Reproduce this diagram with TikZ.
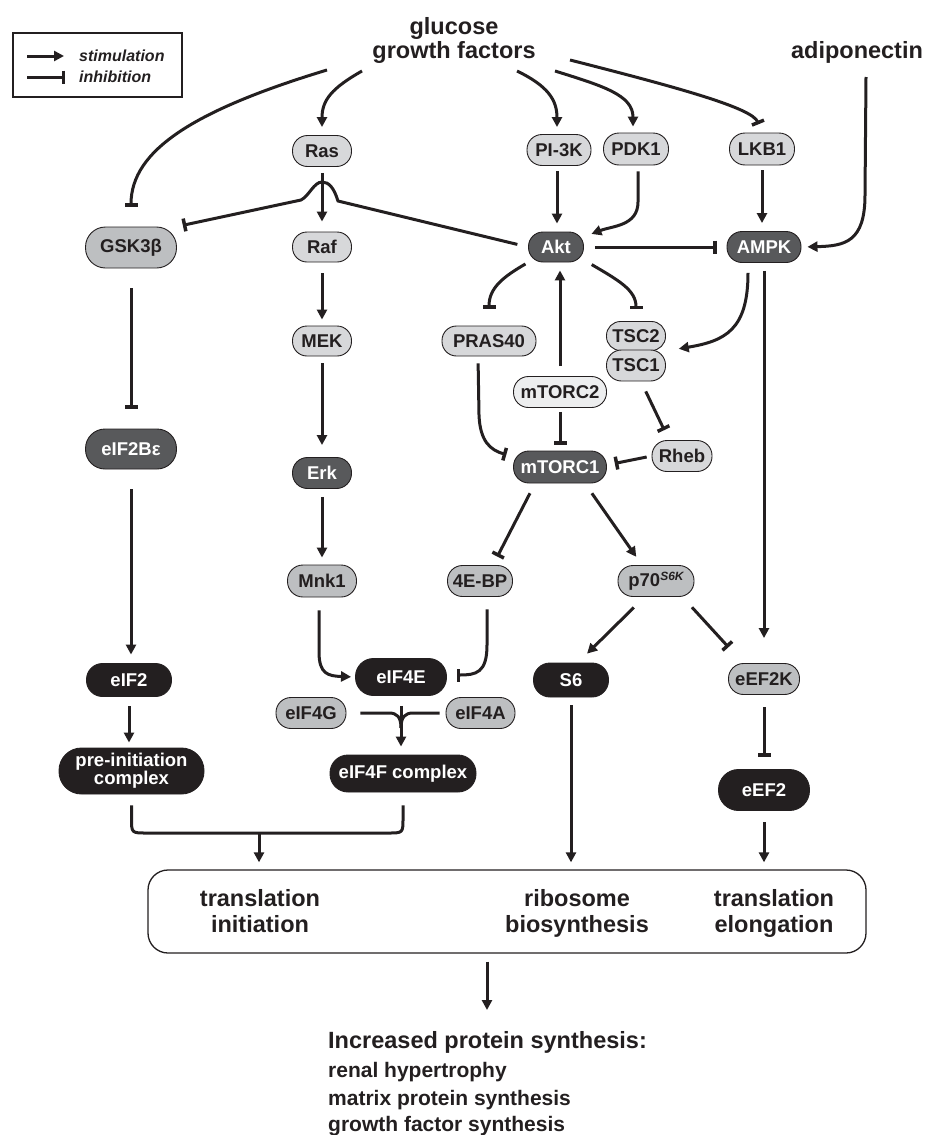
\documentclass[tikz,border=0pt]{standalone}
\usepackage{fontspec}
\setmainfont{Liberation Sans}
\usetikzlibrary{arrows.meta,calc}
\definecolor{blk}{HTML}{231F20}
\definecolor{lgray}{HTML}{D7D8DA}
\definecolor{mgray}{HTML}{BDBFC1}
\definecolor{vlgray}{HTML}{EDEEEF}
\definecolor{dgray}{HTML}{58595B}
\begin{document}
\begin{tikzpicture}[x=1pt,y=-1pt,
  pill/.style={draw=blk, line width=0.9pt, inner sep=1pt, font=\fontsize{18.5}{17}\selectfont\bfseries, align=center},
  lt/.style={pill, fill=lgray, text=blk},
  mt/.style={pill, fill=mgray, text=blk},
  vt/.style={pill, fill=vlgray, text=blk},
  dk/.style={pill, fill=dgray, text=white},
  bk/.style={pill, fill=blk, text=white},
  sz/.style 2 args={minimum width=#1pt, minimum height=#2pt, rounded corners={#2*0.5pt-0.5pt}},
  conn/.style={line width=3pt, draw=blk},
  stim/.style={conn, -{Triangle[length=10pt,width=10pt]}},
  inh/.style={conn, -{Bar[width=13pt,line width=3.5pt]}},
  big/.style={font=\fontsize{23.5}{24}\selectfont\bfseries, text=blk, inner sep=0pt},
  res/.style={font=\fontsize{21}{22}\selectfont\bfseries, text=blk, inner sep=0pt, anchor=base west},
  leg/.style={font=\fontsize{16}{17}\selectfont\bfseries\itshape, text=blk, inner sep=0pt, anchor=base west},
]
\useasboundingbox (0,0) rectangle (926,1135);

% legend
\node[draw=blk, line width=1.5pt, minimum width=169pt, minimum height=64pt, inner sep=0pt] (legend) at (97.5,65) {};
\coordinate (ls1) at (27,56); \coordinate (ls2) at (64,56);
\coordinate (li1) at (27,77); \coordinate (li2) at (65,77);
\draw[stim] (ls1) -- (ls2);
\draw[inh] (li1) -- (li2);
\node[leg] (lstim) at (79,61) {stimulation};
\node[leg] (linh) at (79,82) {inhibition};

% top texts
\node[big, anchor=base] (glc) at (454,34) {glucose};
\node[big, anchor=base] (gf) at (454,58) {growth factors};
\node[big, anchor=base] (adipo) at (857,58) {adiponectin};

% nodes
\node[lt, sz={59}{31}] (Ras) at (322,151) {Ras};
\node[lt, sz={64}{31}] (PI3K) at (559,150) {PI-3K};
\node[lt, sz={65}{32}] (PDK1) at (636,149) {PDK1};
\node[lt, sz={65}{32}] (LKB1) at (762,149) {LKB1};
\node[mt, sz={91}{41}] (GSK) at (131,247.5) {GSK3β};
\node[lt, sz={59}{30}] (Raf) at (322,247) {Raf};
\node[dk, sz={55}{30}] (Akt) at (556,247) {Akt};
\node[dk, sz={74}{31}] (AMPK) at (764,247) {AMPK};
\node[lt, sz={59}{30}] (MEK) at (322,341) {MEK};
\node[lt, sz={94}{30}] (PRAS40) at (489,341) {PRAS40};
\node[lt, sz={59}{29}] (TSC2) at (636,336) {TSC2};
\node[lt, sz={59}{31}] (TSC1) at (636,365.5) {TSC1};
\node[vt, sz={93}{31}] (mTORC2) at (560,392) {mTORC2};
\node[dk, sz={91}{40}] (eIF2Be) at (131,449) {eIF2Bε};
\node[lt, sz={60}{31}] (Rheb) at (682,456) {Rheb};
\node[dk, sz={93}{32}] (mTORC1) at (560,467) {mTORC1};
\node[dk, sz={59}{31}] (Erk) at (322,473) {Erk};
\node[mt, sz={69}{32}] (Mnk1) at (322,581) {Mnk1};
\node[mt, sz={65}{31}] (4EBP) at (480,581) {4E-BP};
\node[mt, sz={76}{31}] (p70) at (656,581) {p70\raisebox{6pt}{\fontsize{12}{12}\selectfont\itshape S6K}};
\node[bk, sz={85}{33}] (eIF2) at (129,680) {eIF2};
\node[bk, sz={91}{37}] (eIF4E) at (401,677) {eIF4E};
\node[bk, sz={75}{34}] (S6) at (571,680) {S6};
\node[mt, sz={71}{31}] (eEF2K) at (764,679) {eEF2K};
\node[mt, sz={70}{31}] (eIF4G) at (311,713) {eIF4G};
\node[mt, sz={69}{31}] (eIF4A) at (480.5,713) {eIF4A};
\node[bk, sz={145}{46}] (preinit) at (131.5,771) {pre-initiation\\complex};
\node[bk, sz={146}{37}] (eIF4F) at (403,773.5) {eIF4F complex};
\node[bk, sz={91}{41}] (eEF2) at (764,790) {eEF2};
\node[draw=blk, line width=1.3pt, rounded corners=20pt, minimum width=718pt, minimum height=83pt, inner sep=0pt] (box) at (507,911.5) {};

% box texts
\node[big, anchor=base] (ti1) at (260,906) {translation};
\node[big, anchor=base] (ti2) at (260,932) {initiation};
\node[big, anchor=base] (rb1) at (577,906) {ribosome};
\node[big, anchor=base] (rb2) at (577,932) {biosynthesis};
\node[big, anchor=base] (te1) at (774,906) {translation};
\node[big, anchor=base] (te2) at (774,932) {elongation};

% result texts
\node[big, anchor=base west] (inc) at (328,1048) {Increased protein synthesis:};
\node[res] (r1) at (328,1077) {renal hypertrophy};
\node[res] (r2) at (328,1105) {matrix protein synthesis};
\node[res] (r3) at (328,1131) {growth factor synthesis};

% free ends
\coordinate (g1) at (327,70);
\coordinate (g2) at (362,71);
\coordinate (g3) at (517,71);
\coordinate (g4) at (555,71);
\coordinate (g5) at (570,60);
\coordinate (a1) at (866,77);
\coordinate (merge) at (401,728);
\coordinate (brk) at (259,833);
\coordinate (t1) at (487,1010);

% from growth factors / adiponectin
\draw[inh, shorten >=20pt] (g1) .. controls (195,110) and (131,150) .. (GSK.north);
\draw[stim, shorten >=8pt] (g2) .. controls (332,88) and (322,100) .. (Ras.north);
\draw[stim, shorten >=7pt] (g3) .. controls (548,86) and (557,100) .. ([xshift=-2pt]PI3K.north);
\draw[stim, shorten >=6pt] (g4) .. controls (603,86) and (633,95) .. ([xshift=-3pt]PDK1.north);
\draw[inh, shorten >=9pt] (g5) .. controls (680,88) and (752,108) .. (LKB1.north);
\draw[stim, shorten >=6pt] (a1) -- (865,195) .. controls (865,242) and (845,246) .. (AMPK.east);

% Ras/MAPK column
\draw[stim, shorten <=6pt, shorten >=10pt] (Ras.south) -- (Raf.north);
\draw[stim, shorten <=11pt, shorten >=6pt] (Raf.south) -- (MEK.north);
\draw[stim, shorten <=7pt, shorten >=12pt] (MEK.south) -- (Erk.north);
\draw[stim, shorten <=8pt, shorten >=7pt] (Erk.south) -- (Mnk1.north);
\draw[stim, shorten <=13pt, shorten >=4pt] ([xshift=-3pt]Mnk1.south) -- (319,652) .. controls (319,674) and (328,676) .. (eIF4E.west);

% Akt area
\draw[stim, shorten <=5pt, shorten >=8pt] ([xshift=-2pt]PI3K.south) -- ([xshift=-2pt]PI3K.south |- Akt.north);
\draw[stim, shorten <=6pt, shorten >=8pt] ([xshift=2pt]PDK1.south) -- (638,202) .. controls (638,226) and (612,226) .. (Akt.20);
\draw[inh, shorten <=11pt, shorten >=10pt] (Akt.east) -- (AMPK.west);
\draw[stim, shorten <=5pt, shorten >=8pt] (LKB1.south) -- (LKB1.south |- AMPK.north);
\draw[inh, shorten <=11pt, shorten >=6pt] (Akt.west) -- (338,201) .. controls (334,188) and (329,182) .. (322,182) .. controls (314,182) and (309,196) .. (301,200) -- (GSK.north east);
\draw[inh, shorten <=3pt, shorten >=17pt] (Akt.south west) .. controls (503,277) and (489,288) .. (PRAS40.north);
\draw[inh, shorten <=9pt, shorten >=12pt] (Akt.-25) .. controls (618,280) and (636,290) .. (TSC2.north);
\draw[stim, shorten <=10pt, shorten >=13pt] ([xshift=-16pt]AMPK.south) .. controls (748,330) and (725,341) .. (TSC2.south east);
\draw[stim, shorten <=8pt, shorten >=25pt] (AMPK.south) -- (eEF2K.north);

% mTOR area
\draw[stim, shorten <=10pt, shorten >=8pt] (mTORC2.north) -- (mTORC2.north |- Akt.south);
\draw[inh, shorten <=4pt, shorten >=6pt] (mTORC2.south) -- (mTORC1.north);
\draw[inh, shorten <=7pt, shorten >=7pt] ([xshift=-11pt]PRAS40.south) -- (479,415) .. controls (480,441) and (490,450) .. ([yshift=-6pt]mTORC1.north west);
\draw[inh, shorten <=11pt, shorten >=11pt] ([xshift=5pt]TSC1.south) -- ([xshift=-13pt]Rheb.north);
\draw[inh, shorten <=5pt, shorten >=8pt] (Rheb.west) -- ([yshift=2pt]mTORC1.east);
\draw[inh, shorten <=11pt, shorten >=9.5pt] ([xshift=-25pt]mTORC1.south) -- ([xshift=13pt]4EBP.north);
\draw[stim, shorten <=12pt, shorten >=10pt] ([xshift=25pt]mTORC1.south) -- ([xshift=-14pt]p70.north);
\draw[stim, shorten <=15pt, shorten >=12.7pt] ([xshift=-11.5pt]p70.south) -- ([xshift=7pt]S6.north);
\draw[inh, shorten <=14pt, shorten >=21.5pt] ([xshift=26.5pt]p70.south) -- ([xshift=-21pt]eEF2K.north);
\draw[inh, shorten <=12.5pt, shorten >=10pt] ([xshift=7pt]4EBP.south) -- (487,645) .. controls (487,673) and (476,675) .. ([yshift=2pt]eIF4E.east);

% eIF4F
\draw[stim, shorten <=10pt, shorten >=8pt] (eIF4E.south) -- (eIF4E.south |- eIF4F.north);
\draw[conn, shorten <=14pt] (eIF4G.east) -- (389,713) .. controls (397,713) and (401,717) .. (merge);
\draw[conn, shorten <=6pt] (eIF4A.west) -- (413,713) .. controls (405,713) and (401,717) .. (merge);

% GSK column
\draw[inh, shorten <=20pt, shorten >=20pt] (GSK.south) -- (eIF2Be.north);
\draw[stim, shorten <=20pt, shorten >=8.5pt] (eIF2Be.south) -- (eIF2Be.south |- eIF2.north);
\draw[stim, shorten <=9.5pt, shorten >=5pt] (eIF2.south) -- (eIF2.south |- preinit.north);

% bracket and box inputs
\draw[conn, shorten <=11pt, shorten >=13pt] (preinit.south) -- (131.5,818) .. controls (131.5,833) .. (146.5,833) -- (388,833) .. controls (403,833) .. (403,818) -- (eIF4F.south);
\draw[stim, shorten >=7pt] (brk) -- (brk |- box.north);
\draw[stim, shorten <=8pt, shorten >=7pt] (S6.south) -- (S6.south |- box.north);
\draw[inh, shorten <=12.5pt, shorten >=12.5pt] (eEF2K.south) -- (eEF2.north);
\draw[stim, shorten <=11.5pt, shorten >=7pt] (eEF2.south) -- (eEF2.south |- box.north);
\draw[stim, shorten <=8pt] ([xshift=-20pt]box.south) -- (t1);
\end{tikzpicture}
\end{document}
